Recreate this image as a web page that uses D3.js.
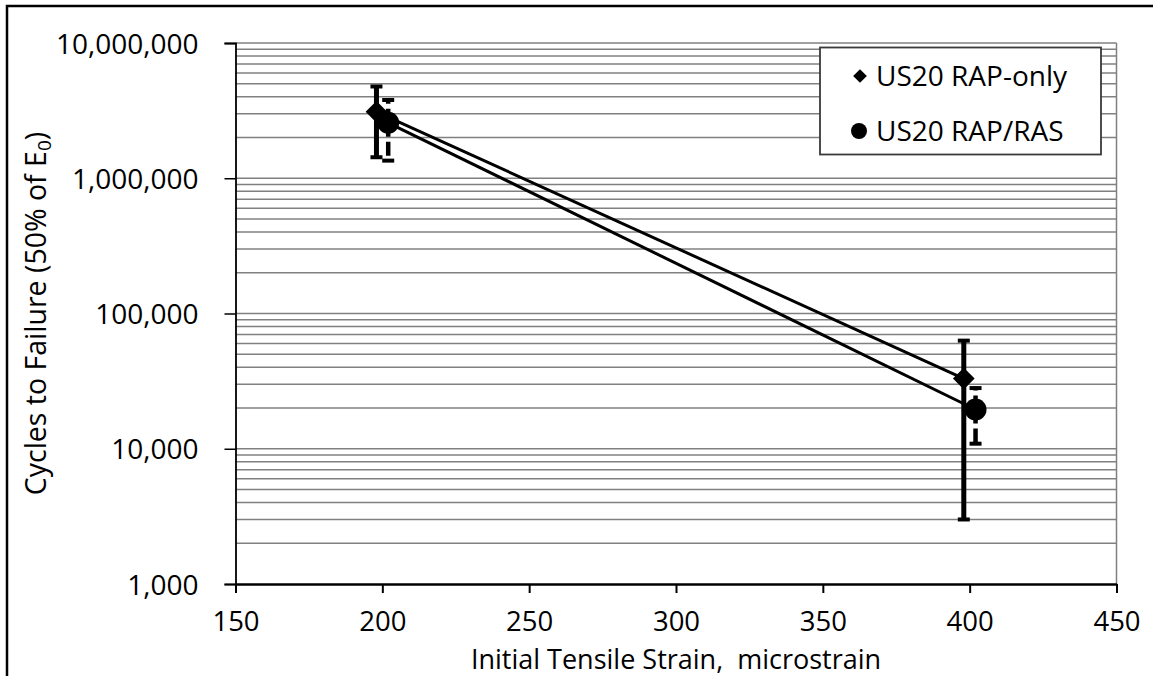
<!DOCTYPE html>
<html>
<head>
<meta charset="utf-8">
<script src="https://cdn.jsdelivr.net/npm/d3@7"></script>
<style>
  html, body { margin: 0; padding: 0; background: #fff; }
  svg { display: block; }
  text { font-family: "Open Sans", "Liberation Sans", sans-serif; fill: #000; }
</style>
</head>
<body>
<svg id="chart" width="1153" height="676"></svg>
<script>
// Fatigue test results: initial tensile strain vs. cycles to failure
const seriesNames = ["US20 RAP-only", "US20 RAP/RAS"];
const strainRapOnly = [198, 398];
const cyclesRapOnly = [3100000, 33000];
const errRapOnly = [1670000, 30000];
const strainRapRas = [202, 402];
const cyclesRapRas = [2570000, 19500];
const errRapRas = [1220000, 8600];

const xTicks = [150, 200, 250, 300, 350, 400, 450];
const yTicks = [1000, 10000, 100000, 1000000, 10000000];
const xTitle = "Initial Tensile Strain,  microstrain";
const yTitle = "Cycles to Failure (50% of E";

const svg = d3.select("#chart");
const W = 1153, H = 676;
const L = 235.5, R = 1116.5, T = 43, B = 584;

svg.append("rect").attr("width", W).attr("height", H).attr("fill", "#fff");
// outer chart frame
svg.append("rect").attr("x", 7).attr("y", 6).attr("width", 1300).attr("height", 800)
  .attr("fill", "none").attr("stroke", "#000").attr("stroke-width", 2.5);

const x = d3.scaleLinear().domain([150, 450]).range([L, R]);
const y = d3.scaleLog().domain([1000, 10000000]).range([B, T]);

// horizontal gridlines at every log step
const gridVals = [];
for (let e = 3; e < 7; e++) for (let m = 1; m <= 9; m++) gridVals.push(m * Math.pow(10, e));
gridVals.push(10000000);
svg.append("g").selectAll("line").data(gridVals.filter(v => v > 1000)).join("line")
  .attr("x1", L).attr("x2", R)
  .attr("y1", d => y(d)).attr("y2", d => y(d))
  .attr("stroke", "#808080").attr("stroke-width", 1.5);

// right edge of plot area
svg.append("line").attr("x1", R).attr("x2", R).attr("y1", T).attr("y2", B)
  .attr("stroke", "#808080").attr("stroke-width", 1.5);

// y axis
const yAxis = svg.append("g").attr("transform", `translate(${L},0)`)
  .call(d3.axisLeft(y).tickValues(yTicks).tickSize(11).tickPadding(26)
    .tickFormat(d3.format(",")));
yAxis.select(".domain").attr("stroke", "#000").attr("stroke-width", 1.8);
yAxis.selectAll(".tick line").attr("stroke", "#000").attr("stroke-width", 1.5);
yAxis.selectAll(".tick text").attr("font-size", 28).attr("dy", "0.36em")
  .style("font-family", "'Open Sans', sans-serif");

// x axis
const xAxis = svg.append("g").attr("transform", `translate(0,${B})`)
  .call(d3.axisBottom(x).tickValues(xTicks).tickSize(9).tickSizeOuter(0).tickPadding(18.5));
xAxis.select(".domain").attr("stroke", "#000").attr("stroke-width", 2.5);
xAxis.selectAll(".tick line").attr("stroke", "#000").attr("stroke-width", 2);
xAxis.selectAll(".tick text").attr("font-size", 27.5).attr("dy", "0.71em")
  .style("font-family", "'Open Sans', sans-serif");

// axis titles
svg.append("text").attr("x", (L + R) / 2).attr("y", 669)
  .attr("text-anchor", "middle").attr("font-size", 27)
  .style("white-space", "pre").text(xTitle);

const yt = svg.append("text").attr("transform", `translate(46,${(T + B) / 2}) rotate(-90)`)
  .attr("text-anchor", "middle").attr("font-size", 28.5);
yt.append("tspan").text(yTitle);
yt.append("tspan").attr("font-size", 19).attr("dy", 5).text("0");
yt.append("tspan").attr("dy", -5).text(")");

// series data
const rapOnly = strainRapOnly.map((s, i) => ({ x: s, y: cyclesRapOnly[i], e: errRapOnly[i] }));
const rapRas = strainRapRas.map((s, i) => ({ x: s, y: cyclesRapRas[i], e: errRapRas[i] }));

const line = d3.line().x(d => x(d.x)).y(d => y(d.y));
[rapOnly, rapRas].forEach(data => {
  svg.append("path").datum(data).attr("d", line)
    .attr("fill", "none").attr("stroke", "#000").attr("stroke-width", 3);
});

// error bars: solid for RAP-only, dashed for RAP/RAS
function errorBars(data, dashed, width) {
  const g = svg.append("g");
  data.forEach(d => {
    const cx = x(d.x), cy = y(d.y);
    const lo = y(d.y - d.e), hi = y(d.y + d.e);
    [hi, lo].forEach(end => {
      g.append("line").attr("x1", cx).attr("x2", cx).attr("y1", cy).attr("y2", end)
        .attr("stroke", "#000").attr("stroke-width", width)
        .attr("stroke-dasharray", dashed ? "14,5" : null);
      g.append("line").attr("x1", cx - 6).attr("x2", cx + 6).attr("y1", end).attr("y2", end)
        .attr("stroke", "#000").attr("stroke-width", 4);
    });
  });
}
errorBars(rapOnly, false, 5);
errorBars(rapRas, true, 4.5);

// markers
const diamond = d3.symbol().type(d3.symbolDiamond2);
svg.append("g").selectAll("path").data(rapOnly).join("path")
  .attr("transform", d => `translate(${x(d.x)},${y(d.y)})`)
  .attr("d", diamond.size(300)()).attr("fill", "#000");
svg.append("g").selectAll("circle").data(rapRas).join("circle")
  .attr("cx", d => x(d.x)).attr("cy", d => y(d.y)).attr("r", 11).attr("fill", "#000");

// legend
const lg = svg.append("g");
lg.append("rect").attr("x", 820).attr("y", 47.5).attr("width", 281).attr("height", 107)
  .attr("fill", "#fff").attr("stroke", "#3a3a3a").attr("stroke-width", 1.8);
const rows = [76, 131];
lg.append("path").attr("transform", `translate(860,${rows[0]})`)
  .attr("d", d3.symbol().type(d3.symbolDiamond2).size(120)()).attr("fill", "#000");
lg.append("circle").attr("cx", 859).attr("cy", rows[1]).attr("r", 8).attr("fill", "#000");
seriesNames.forEach((n, i) => {
  lg.append("text").attr("x", 876).attr("y", rows[i]).attr("dy", "0.36em")
    .attr("font-size", 28).text(n);
});
</script>
</body>
</html>
